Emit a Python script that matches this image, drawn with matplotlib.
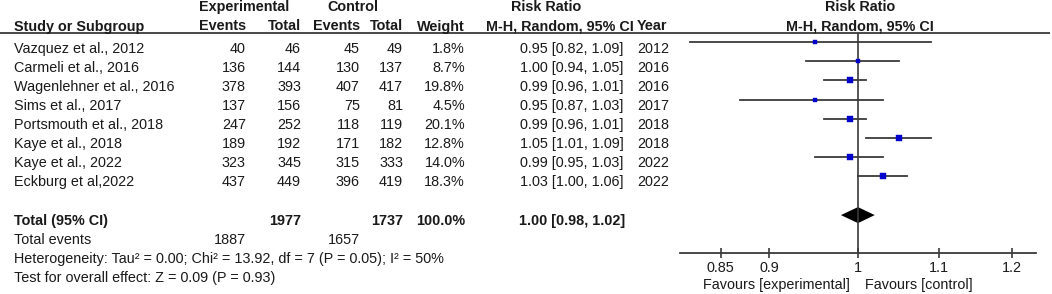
import numpy as np
import matplotlib
matplotlib.use("Agg")
import matplotlib.pyplot as plt

plt.rcParams['font.family'] = ['Liberation Sans', 'DejaVu Sans']
plt.rcParams['font.size'] = 10.4

studies = ['Vazquez et al., 2012', 'Carmeli et al., 2016', 'Wagenlehner et al., 2016',
           'Sims et al., 2017', 'Portsmouth et al., 2018', 'Kaye et al., 2018',
           'Kaye et al., 2022', 'Eckburg et al,2022']
exp_events = [40, 136, 378, 137, 247, 189, 323, 437]
exp_total = [46, 144, 393, 156, 252, 192, 345, 449]
ctl_events = [45, 130, 407, 75, 118, 171, 315, 396]
ctl_total = [49, 137, 417, 81, 119, 182, 333, 419]
weights = [1.8, 8.7, 19.8, 4.5, 20.1, 12.8, 14.0, 18.3]
rr = [0.95, 1.00, 0.99, 0.95, 0.99, 1.05, 0.99, 1.03]
rr_lo = [0.82, 0.94, 0.96, 0.87, 0.96, 1.01, 0.95, 1.00]
rr_hi = [1.09, 1.05, 1.01, 1.03, 1.01, 1.09, 1.03, 1.06]
years = [2012, 2016, 2016, 2017, 2018, 2018, 2022, 2022]

tot_exp, tot_ctl = 1977, 1737
tot_exp_ev, tot_ctl_ev = 1887, 1657
pooled, pooled_lo, pooled_hi = 1.00, 0.98, 1.02
het_text = 'Heterogeneity: Tau² = 0.00; Chi² = 13.92, df = 7 (P = 0.05); I² = 50%'
effect_text = 'Test for overall effect: Z = 0.09 (P = 0.93)'
xticks = [0.85, 0.9, 1, 1.1, 1.2]
xticklabels = ['0.85', '0.9', '1', '1.1', '1.2']

W, H = 1052, 294
fig = plt.figure(figsize=(W / 100, H / 100), dpi=100)
fig.patch.set_facecolor('white')

tc = '#1a1a1a'
lc = '#3a3a3a'
blue = '#0000cc'

# table layer in pixel coords
ax0 = fig.add_axes([0, 0, 1, 1])
ax0.set_xlim(0, W)
ax0.set_ylim(H, 0)
ax0.axis('off')

def t(x, y, s, ha='left', bold=False):
    ax0.text(x, y, s, ha=ha, va='baseline', color=tc,
             fontweight='bold' if bold else 'normal')

# header
t(244, 11, 'Experimental', 'center', True)
t(353, 11, 'Control', 'center', True)
t(546, 11, 'Risk Ratio', 'center', True)
t(860, 11, 'Risk Ratio', 'center', True)
t(14, 30.5, 'Study or Subgroup', bold=True)
t(246, 30.5, 'Events', 'right', True)
t(301, 30.5, 'Total', 'right', True)
t(360, 30.5, 'Events', 'right', True)
t(403, 30.5, 'Total', 'right', True)
t(465, 30.5, 'Weight', 'right', True)
t(560, 30.5, 'M-H, Random, 95% CI', 'center', True)
t(637, 30.5, 'Year', bold=True)
t(860, 30.5, 'M-H, Random, 95% CI', 'center', True)
ax0.plot([0, 1050], [32.5, 32.5], color=lc, lw=1.3, solid_capstyle='butt')

row0, dy = 52.7, 19.1
for i in range(len(studies)):
    y = row0 + dy * i
    t(14, y, studies[i])
    t(246, y, str(exp_events[i]), 'right')
    t(301, y, str(exp_total[i]), 'right')
    t(360, y, str(ctl_events[i]), 'right')
    t(403, y, str(ctl_total[i]), 'right')
    t(465, y, f'{weights[i]:.1f}%', 'right')
    t(572, y, f'{rr[i]:.2f} [{rr_lo[i]:.2f}, {rr_hi[i]:.2f}]', 'center')
    t(637, y, str(years[i]))

ytot = row0 + dy * 9
t(14, ytot, 'Total (95% CI)', bold=True)
t(301, ytot, str(tot_exp), 'right', True)
t(403, ytot, str(tot_ctl), 'right', True)
t(465, ytot, '100.0%', 'right', True)
t(572, ytot, f'{pooled:.2f} [{pooled_lo:.2f}, {pooled_hi:.2f}]', 'center', True)
t(14, ytot + dy, 'Total events')
t(246, ytot + dy, str(tot_exp_ev), 'right')
t(360, ytot + dy, str(tot_ctl_ev), 'right')
t(14, ytot + 2 * dy, het_text)
t(14, ytot + 3 * dy, effect_text)
t(850, 288.5, 'Favours [experimental]', 'right')
t(865, 288.5, 'Favours [control]')

# forest plot
x0, x1, ytop, ybot = 680, 1036, 32.5, 252.5
ax = fig.add_axes([x0 / W, 1 - ybot / H, (x1 - x0) / W, (ybot - ytop) / H])
ax.set_xscale('log')
ax.set_xlim(0.81, 1 / 0.81)
ax.set_ylim(ybot, ytop)
ax.patch.set_alpha(0)
for s in ['top', 'left', 'right']:
    ax.spines[s].set_visible(False)
ax.spines['bottom'].set_color(lc)
ax.spines['bottom'].set_linewidth(1.3)
ax.set_yticks([])
ax.set_xticks(xticks)
ax.set_xticklabels(xticklabels)
ax.minorticks_off()
ax.tick_params(axis='x', direction='inout', length=6.5, width=1.2, color=lc,
               labelcolor=tc, labelsize=10.4, pad=3)
ax.axvline(1, color=lc, lw=1.2)

for i in range(len(studies)):
    y = row0 + dy * i - 10.5
    ax.plot([rr_lo[i], rr_hi[i]], [y, y], color=lc, lw=1.3)
    ms = (1.6 + 1.06 * np.sqrt(weights[i])) * 0.72
    ax.plot(rr[i], y, 's', color=blue, ms=ms, mec=blue, mew=0.3)

yd = ytot - 9.5
ax.fill([pooled_lo, pooled, pooled_hi, pooled], [yd, yd - 8, yd, yd + 8],
        color='black', lw=0)

fig.savefig('out.png', dpi=100, facecolor='white')
